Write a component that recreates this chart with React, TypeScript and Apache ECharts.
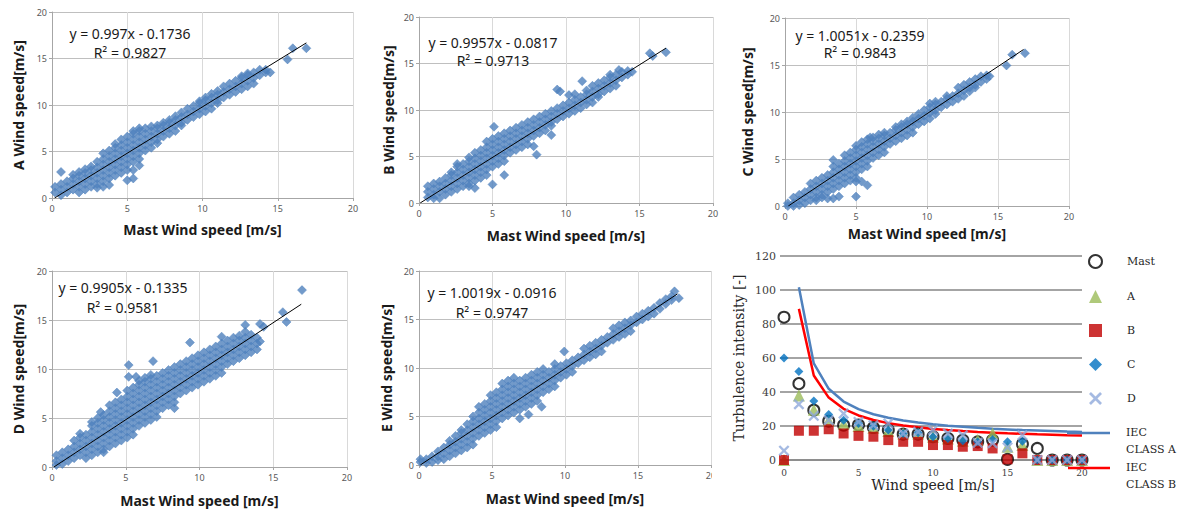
import React, { useEffect, useRef } from "react";
import * as echarts from "echarts";

type Col = [number, number[]];

// ---- scatter clouds: [mast speed, [sensor speeds read at that mast speed]] ----
const cloudA: Col[] = [
  [0.2, [0.6, 1.2]], [0.6, [0.3, 0.9, 1.5, 2.8]], [1.0, [0.6, 1.2, 1.8]], [1.4, [0.9, 1.5, 2.1, 2.5]],
  [1.8, [0.6, 1.2, 1.8, 2.4, 2.8]], [2.2, [0.9, 1.5, 2.1, 2.7, 3.1]], [2.6, [1.2, 1.8, 2.4, 3.0, 3.4]],
  [3.0, [1.1, 1.5, 2.1, 2.7, 3.3, 3.9]], [3.4, [1.2, 1.8, 2.4, 3.0, 3.6, 4.2, 4.8]],
  [3.8, [1.4, 2.1, 2.7, 3.3, 3.9, 4.5, 5.1]], [4.2, [2.4, 3.0, 3.6, 4.2, 4.8, 5.4, 5.8]],
  [4.6, [2.7, 3.3, 3.9, 4.5, 5.1, 5.7, 6.3]], [5.0, [1.9, 3.0, 3.6, 4.2, 4.8, 5.4, 6.0, 6.6]],
  [5.4, [2.1, 3.0, 3.9, 4.5, 5.1, 5.7, 6.3, 6.9, 7.2]], [5.8, [3.5, 4.2, 4.8, 5.4, 6.0, 6.6, 7.2, 7.5]],
  [6.2, [5.1, 5.7, 6.3, 6.9, 7.5]], [6.6, [5.4, 6.0, 6.6, 7.2, 7.7]], [7.0, [5.9, 6.3, 6.9, 7.5, 7.8]],
  [7.4, [6.6, 7.2, 7.8, 8.1]], [7.8, [6.9, 7.5, 8.1, 8.4]], [8.2, [7.2, 7.8, 8.4, 8.8]],
  [8.6, [7.8, 8.1, 8.7, 9.2]], [9.0, [8.4, 9.0, 9.6]], [9.4, [8.7, 9.3, 9.9]], [9.8, [9.0, 9.6, 10.2, 10.4]],
  [10.2, [9.3, 9.9, 10.5, 10.8]], [10.6, [9.6, 10.2, 10.8, 11.2]], [11.0, [10.2, 10.5, 11.1, 11.5]],
  [11.4, [10.8, 11.4, 12.0]], [11.8, [11.1, 11.7, 12.3]], [12.2, [11.4, 12.0, 12.6]],
  [12.6, [11.7, 12.3, 12.9, 13.1]], [13.0, [12.0, 12.6, 13.2, 13.4]], [13.4, [12.3, 12.9, 13.5]],
  [13.8, [13.2, 13.8]], [14.2, [13.5, 13.8]], [14.5, [13.5]],
  [15.65, [14.9]], [16.0, [16.1]], [16.9, [16.1]],
];

const cloudB: Col[] = [
  [0.6, [0.6, 1.2, 1.8]], [1.0, [0.5, 0.9, 1.5, 2.1]], [1.4, [0.5, 1.2, 1.8, 2.3]], [1.8, [0.9, 1.5, 2.1, 2.7]],
  [2.2, [1.2, 1.8, 2.4, 3.0, 3.3]], [2.6, [1.5, 2.1, 2.7, 3.3, 3.9, 4.2]], [3.0, [1.8, 2.4, 3.0, 3.6, 4.2]],
  [3.4, [1.8, 2.1, 2.7, 3.3, 3.9, 4.5, 4.9]], [3.8, [1.6, 2.4, 3.0, 3.6, 4.2, 4.8, 5.4]],
  [4.2, [2.7, 3.3, 3.9, 4.5, 5.1, 5.7]], [4.6, [3.0, 3.6, 4.2, 4.8, 5.4, 6.0, 6.6]],
  [5.0, [2.0, 3.9, 4.5, 5.1, 5.7, 6.3, 6.9]], [5.1, [8.2]], [5.4, [4.2, 4.8, 5.4, 6.0, 6.6, 7.2]],
  [5.8, [3.0, 4.5, 5.1, 5.7, 6.3, 6.9, 7.5]], [6.2, [5.4, 6.0, 6.6, 7.2, 7.8]], [6.6, [5.7, 6.3, 6.9, 7.5, 8.1]],
  [7.0, [6.0, 6.6, 7.2, 7.8, 8.4]], [7.4, [6.3, 6.9, 7.5, 8.1, 8.7]], [7.8, [6.1, 7.2, 7.8, 8.4, 9.0]],
  [8.0, [5.2]], [8.2, [7.5, 8.1, 8.7, 9.3]], [8.6, [7.8, 8.4, 9.0, 9.6]], [9.0, [7.3, 8.3, 8.7, 9.3, 9.9]],
  [9.4, [9.0, 9.6, 10.2, 12.2]], [9.6, [12.0]], [9.8, [9.3, 9.9, 10.5]], [10.2, [9.6, 10.2, 10.8, 11.6]],
  [10.6, [9.9, 10.5, 11.1, 11.7]], [11.0, [10.2, 10.8, 11.4]], [11.1, [13.1]], [11.4, [10.6, 11.1, 11.7, 12.1]],
  [11.8, [10.8, 11.4, 12.0, 12.6]], [12.2, [11.4, 11.7, 12.3, 12.9]], [12.6, [12.0, 12.6, 13.2]],
  [13.0, [12.3, 12.9, 13.5, 13.8]], [13.4, [12.6, 13.2, 13.8]], [13.6, [14.3]], [13.8, [13.5, 14.1]],
  [14.2, [13.8, 14.2]], [14.5, [14.1]], [15.7, [16.1]], [15.9, [15.8]], [16.8, [16.2]],
];

const cloudC: Col[] = [
  [0.2, [0.0, 0.3]], [0.6, [0.0, 0.3, 0.9]], [1.0, [0.1, 0.6, 1.2]], [1.4, [0.3, 0.9, 1.5]],
  [1.8, [0.6, 1.2, 1.8, 2.4]], [2.2, [0.6, 0.9, 1.5, 2.1, 2.7]], [2.6, [0.9, 1.2, 1.8, 2.4, 3.0]],
  [3.0, [0.8, 1.5, 2.1, 2.7, 3.3]], [3.4, [0.8, 1.8, 2.4, 3.0, 3.6, 4.2, 4.9]],
  [3.8, [1.0, 2.1, 2.7, 3.3, 3.9, 4.5]], [4.2, [2.4, 3.0, 3.6, 4.2, 4.8, 5.4]],
  [4.6, [2.7, 3.3, 3.9, 4.5, 5.1, 5.7]], [5.0, [1.0, 2.6, 3.0, 3.6, 4.2, 4.8, 5.4, 6.0, 6.4]],
  [5.4, [2.6, 3.9, 4.5, 5.1, 5.7, 6.3, 6.8]], [5.8, [2.2, 4.2, 4.8, 5.4, 6.0, 6.6, 7.1]], [6.0, [7.3]],
  [6.2, [5.1, 5.7, 6.3, 6.9, 7.3]], [6.6, [5.4, 6.0, 6.6, 7.2, 7.6]], [7.0, [5.7, 6.3, 6.9, 7.5, 7.8]],
  [7.4, [6.6, 7.2, 7.8]], [7.8, [6.9, 7.5, 8.1, 8.4]], [8.2, [7.2, 7.8, 8.4, 8.7]], [8.6, [7.5, 8.1, 8.7, 9.0]],
  [9.0, [7.8, 8.4, 9.0, 9.4]], [9.4, [8.7, 9.3, 9.8]], [9.8, [9.0, 9.6, 10.2]], [10.2, [9.3, 9.9, 10.5, 10.9]],
  [10.6, [9.8, 10.2, 10.8, 11.1]], [11.0, [10.5, 11.1]], [11.4, [10.8, 11.4, 11.7]], [11.8, [11.1, 11.7]],
  [12.2, [11.4, 12.0, 12.6]], [12.6, [11.7, 12.3, 12.9]], [13.0, [12.2, 12.6, 13.2]],
  [13.4, [12.6, 12.9, 13.5]], [13.8, [13.2, 13.8]], [14.2, [13.5, 13.9]], [14.4, [13.8]],
  [15.6, [14.95]], [16.0, [16.1]], [16.9, [16.25]],
];

const cloudD: Col[] = [
  [0.3, [0.2, 0.6, 1.2]], [0.7, [0.3, 0.9, 1.5]], [1.1, [0.6, 1.2, 1.8]], [1.5, [0.9, 1.5, 2.1, 2.7]],
  [1.9, [1.2, 1.8, 2.4, 3.0, 3.4]], [2.3, [0.9, 1.5, 2.1, 2.7, 3.3]], [2.7, [1.2, 1.8, 2.4, 3.0, 3.6, 4.2, 4.6]],
  [3.1, [1.5, 2.1, 2.7, 3.3, 3.9, 4.5, 5.0]], [3.3, [5.6]], [3.5, [1.5, 1.8, 2.4, 3.0, 3.6, 4.2, 4.8, 5.3]],
  [3.9, [2.1, 2.7, 3.3, 3.9, 4.5, 5.1, 5.7, 6.3]], [4.3, [2.4, 3.0, 3.6, 4.2, 4.8, 5.4, 6.0, 6.6]], [4.4, [7.6]],
  [4.7, [2.7, 3.3, 3.9, 4.5, 5.1, 5.7, 6.3, 6.9]], [5.1, [3.0, 3.6, 4.2, 4.8, 5.4, 6.0, 6.6, 7.2, 7.8]],
  [5.2, [9.2, 10.4]], [5.5, [3.3, 3.9, 4.5, 5.1, 5.7, 6.3, 6.9, 7.5, 8.1]], [5.7, [9.2]],
  [5.9, [4.2, 4.8, 5.4, 6.0, 6.6, 7.2, 7.8, 8.4, 8.8]], [6.3, [4.5, 5.1, 5.7, 6.3, 6.9, 7.5, 8.1, 8.7, 9.1]],
  [6.7, [4.8, 5.4, 6.0, 6.6, 7.2, 7.8, 8.4, 9.0, 9.4]], [6.85, [10.8]],
  [7.1, [5.1, 5.7, 6.3, 6.9, 7.5, 8.1, 8.7, 9.3]], [7.5, [6.0, 6.6, 7.2, 7.8, 8.4, 9.0, 9.6]],
  [7.9, [6.3, 6.9, 7.5, 8.1, 8.7, 9.3, 9.9]], [8.3, [6.0, 6.6, 7.2, 7.8, 8.4, 9.0, 9.6, 10.2]],
  [8.7, [7.5, 8.1, 8.7, 9.3, 9.9, 10.5]], [9.1, [7.8, 8.4, 9.0, 9.6, 10.2, 10.8]], [9.35, [12.7]],
  [9.5, [8.1, 8.7, 9.3, 9.9, 10.5, 11.1]], [9.9, [8.4, 9.0, 9.6, 10.2, 10.8, 11.4]],
  [10.3, [8.7, 9.3, 9.9, 10.5, 11.1, 11.7]], [10.7, [9.0, 9.6, 10.2, 10.8, 11.4, 12.0]],
  [11.1, [9.3, 9.9, 10.5, 11.1, 11.7, 12.3]], [11.5, [9.6, 10.2, 10.8, 11.4, 12.0, 12.6, 13.3]],
  [11.9, [10.5, 11.1, 11.7, 12.3, 12.9]], [12.3, [10.8, 11.4, 12.0, 12.6, 13.2]],
  [12.7, [11.1, 11.7, 12.3, 12.9, 13.4]], [13.1, [11.4, 12.0, 12.6, 13.2, 13.8, 14.5]],
  [13.5, [11.7, 12.3, 12.9, 13.5]], [13.9, [12.0, 12.6, 13.2]], [14.1, [12.8, 14.6]], [14.35, [14.3]],
  [15.65, [15.8]], [15.9, [14.8]], [16.95, [18.05]],
];

const cloudE: Col[] = [
  [0.1, [0.3, 0.6]], [0.5, [0.2, 0.6]], [0.9, [0.3, 0.9]], [1.3, [0.5, 0.9, 1.4]], [1.7, [0.6, 1.2, 1.8]],
  [2.1, [0.9, 1.5, 2.1, 2.5]], [2.5, [1.2, 1.8, 2.4, 3.0]], [2.9, [1.5, 2.1, 2.7, 3.3, 3.6]],
  [3.3, [1.8, 2.4, 3.0, 3.6, 4.2]], [3.7, [2.1, 2.7, 3.3, 3.9, 4.5, 5.0]],
  [4.1, [3.0, 3.6, 4.2, 4.8, 5.4, 6.0]], [4.5, [3.3, 3.9, 4.5, 5.1, 5.7, 6.3]],
  [4.9, [3.6, 4.2, 4.8, 5.4, 6.0, 6.6, 7.2]], [5.3, [3.9, 4.5, 5.1, 5.7, 6.3, 6.9, 7.5]],
  [5.7, [4.8, 5.4, 6.0, 6.6, 7.2, 7.8, 8.4]], [6.1, [5.1, 5.7, 6.3, 6.9, 7.5, 8.1, 8.7]],
  [6.5, [5.4, 6.0, 6.6, 7.2, 7.8, 8.4, 9.0]], [6.9, [4.8, 5.7, 6.3, 6.9, 7.5, 8.1, 8.7]],
  [7.3, [6.0, 6.6, 7.2, 7.8, 8.4, 9.0]], [7.5, [5.2]], [7.7, [6.3, 6.9, 7.5, 8.1, 8.7, 9.3]],
  [8.1, [6.6, 7.2, 7.8, 8.4, 9.0, 9.6]], [8.4, [6.0]], [8.5, [7.5, 8.1, 8.7, 9.3, 9.9]],
  [8.9, [7.8, 8.4, 9.0, 9.6]], [9.3, [8.1, 8.7, 9.3, 9.9, 10.4]], [9.7, [9.0, 9.6, 10.2]], [9.95, [11.7]],
  [10.1, [9.3, 9.9, 10.5]], [10.5, [9.6, 10.2, 10.8]], [10.9, [10.5, 11.1]], [11.3, [10.8, 11.4, 12.0]],
  [11.7, [11.1, 11.7, 12.3]], [12.1, [11.4, 12.0, 12.6]], [12.5, [11.7, 12.3, 12.9]], [12.9, [12.6, 13.2]],
  [13.3, [12.9, 13.5, 14.1]], [13.7, [13.2, 13.8, 14.4]], [14.1, [13.5, 14.1, 14.7]], [14.5, [13.8, 14.4, 14.9]],
  [14.9, [14.7, 15.3]], [15.3, [15.0, 15.6]], [15.7, [15.3, 15.9]], [16.1, [15.6, 16.2]], [16.5, [16.1, 16.7]],
  [16.9, [16.6, 17.1]], [17.3, [17.0, 17.4]], [17.5, [17.9]], [17.8, [17.2]],
];

// ---- linear trend lines (end points) ----
const trendA = [[0.17, 0], [16.9, 16.68]];
const trendB = [[0.08, 0], [16.8, 16.65]];
const trendC = [[0.23, 0], [16.8, 16.65]];
const trendD = [[0.13, 0], [16.9, 16.61]];
const trendE = [[0.09, 0], [17.7, 17.64]];

const sensorNames = ["A", "B", "C", "D", "E"];
const equations = [
  ["y = 0.997x - 0.1736", "R² = 0.9827"],
  ["y = 0.9957x - 0.0817", "R² = 0.9713"],
  ["y = 1.0051x - 0.2359", "R² = 0.9843"],
  ["y = 0.9905x - 0.1335", "R² = 0.9581"],
  ["y = 1.0019x - 0.0916", "R² = 0.9747"],
];

// ---- turbulence intensity panel ----
const windBins = [0, 1, 2, 3, 4, 5, 6, 7, 8, 9, 10, 11, 12, 13, 14, 15, 16, 17, 18, 19, 20];
const tiMast = [84, 44.9, 29.3, 22.8, 20.5, 20.6, 19.1, 17.6, 15.2, 15.2, 13.7, 12.7, 11.7, 10.7, 11.7, 0.4, 9.4, 6.8, 0, 0, 0];
const tiA = [0, 38, 29.6, 23.4, 21.5, 20, 19, 17, 15.6, 15.6, 13.7, 12.7, 11.3, 11.7, 15.6, 7.8, 8.8, 0, 0, 0, 0];
const tiB = [0, 17.2, 17.2, 18.1, 15.6, 14.2, 13.7, 11.7, 10.7, 10.7, 8.8, 8.8, 7.8, 8.2, 6.8, 0.4, 3.9, 0, 0, 0, 0];
const tiC = [60, 52, 34.7, 26.7, 23.4, 21.5, 19.9, 17.6, 15.6, 16, 13.7, 12.7, 11.3, 10.7, 12.1, 10.7, 11.1, 0, 0, 0, 0];
const tiD = [5.5, 32.8, 26, 23.4, 27.3, 22.4, 20.5, 21.5, 15.6, 16.6, 17.6, 15.6, 14.6, 10.1, 9.8, 7.4, 14.6, 0, 0, 0, 0];
const iecBins = [1, 2, 3, 4, 5, 6, 7, 8, 9, 10, 11, 12, 13, 14, 15, 16, 17, 18, 19, 20];
const iecClassA = [101.6, 56.8, 41.9, 34.4, 29.9, 26.9, 24.8, 23.2, 22.0, 21.0, 20.1, 19.5, 18.9, 18.4, 18.0, 17.6, 17.3, 17.0, 16.7, 16.5];
const iecClassB = [88.9, 49.7, 36.7, 30.1, 26.2, 23.5, 21.7, 20.3, 19.2, 18.3, 17.6, 17.0, 16.5, 16.1, 15.7, 15.4, 15.1, 14.9, 14.6, 14.4];

const clouds = [cloudA, cloudB, cloudC, cloudD, cloudE];
const trends = [trendA, trendB, trendC, trendD, trendE];

// layout of the six panels (pixels)
const grids = [
  { left: 52, top: 12, width: 301, height: 186 },
  { left: 419, top: 17, width: 294, height: 186 },
  { left: 785, top: 18, width: 284, height: 188 },
  { left: 52, top: 271, width: 295, height: 196 },
  { left: 419, top: 271, width: 292, height: 194 },
  { left: 784, top: 256, width: 298, height: 204 },
];
const xNameGaps = [24, 25, 20, 26, 26];
const yNameGaps = [27, 24, 31, 27, 26];
const eqPos = [
  [130, 33, 52], [493, 42, 60], [860, 35, 52], [123, 287, 307], [492, 292, 312],
];

const SANS = "'Noto Sans', 'Open Sans', sans-serif";
const SERIF = "'DejaVu Serif', 'Liberation Serif', serif";
const POINT = "#4F81BD";
const X_MARK = "path://M1.5,0 L5,3.5 L8.5,0 L10,1.5 L6.5,5 L10,8.5 L8.5,10 L5,6.5 L1.5,10 L0,8.5 L3.5,5 L0,1.5 Z";

function flatten(cols: Col[]) {
  const out: number[][] = [];
  cols.forEach(([x, ys]) => ys.forEach((y) => out.push([x, y])));
  return out;
}

export default function App() {
  const ref = useRef<HTMLDivElement>(null);

  useEffect(() => {
    if (!ref.current) return;
    const chart = echarts.init(ref.current, undefined, { renderer: "svg" });

    const xAxis: any[] = [];
    const yAxis: any[] = [];
    const series: any[] = [];
    const graphic: any[] = [];

    sensorNames.forEach((s, i) => {
      xAxis.push({
        type: "value", gridIndex: i, min: 0, max: 20, interval: 5,
        name: "Mast Wind speed [m/s]", nameLocation: "middle", nameGap: xNameGaps[i],
        nameTextStyle: { fontFamily: SANS, fontSize: 14, fontWeight: "bold", color: "#1a1a1a" },
        axisLine: { show: true, lineStyle: { color: "#A6A6A6", width: 1 } },
        axisTick: { show: true, length: 3, lineStyle: { color: "#A6A6A6" } },
        axisLabel: { fontFamily: SANS, fontSize: 9, color: "#595959", margin: 6 },
        splitLine: { show: true, lineStyle: { color: "#D9D9D9", width: 1 } },
      });
      yAxis.push({
        type: "value", gridIndex: i, min: 0, max: 20, interval: 5,
        name: s + " Wind speed[m/s]", nameLocation: "middle", nameGap: yNameGaps[i],
        nameTextStyle: { fontFamily: SANS, fontSize: 14, fontWeight: "bold", color: "#1a1a1a" },
        axisLine: { show: true, lineStyle: { color: "#A6A6A6", width: 1 } },
        axisTick: { show: true, length: 3, lineStyle: { color: "#A6A6A6" } },
        axisLabel: { fontFamily: SANS, fontSize: 9, color: "#595959", margin: 5 },
        splitLine: { show: true, lineStyle: { color: "#BFBFBF", width: 1 } },
      });
      series.push({
        type: "scatter", name: s + " wind speed", xAxisIndex: i, yAxisIndex: i,
        data: flatten(clouds[i]), symbol: "diamond", symbolSize: 9,
        itemStyle: { color: POINT, borderColor: POINT, borderWidth: 0.6 }, z: 2, silent: true,
      });
      series.push({
        type: "line", name: s + " trend", xAxisIndex: i, yAxisIndex: i,
        data: trends[i], symbol: "none",
        lineStyle: { color: "#000", width: 1 }, z: 3, silent: true,
      });
      const [cx, y1, y2] = eqPos[i];
      graphic.push({
        type: "text", x: cx, y: y1, z: 50,
        style: { text: equations[i][0], fontFamily: SANS, fontSize: 14, fill: "#1a1a1a",
          textAlign: "center", textVerticalAlign: "middle" },
      });
      graphic.push({
        type: "text", x: cx, y: y2, z: 50,
        style: { text: equations[i][1], fontFamily: SANS, fontSize: 14, fill: "#1a1a1a",
          textAlign: "center", textVerticalAlign: "middle" },
      });
    });

    // turbulence intensity panel
    xAxis.push({
      type: "value", gridIndex: 5, min: 0, max: 20, interval: 5,
      name: "Wind speed [m/s]", nameLocation: "middle", nameGap: 18,
      nameTextStyle: { fontFamily: SERIF, fontSize: 14, color: "#262626" },
      axisLine: { show: true, lineStyle: { color: "#868686", width: 1.5 } },
      axisTick: { show: false },
      axisLabel: { fontFamily: SERIF, fontSize: 9, color: "#404040", margin: 8 },
      splitLine: { show: false },
    });
    yAxis.push({
      type: "value", gridIndex: 5, min: 0, max: 120, interval: 20,
      name: "Turbulence intensity [-]", nameLocation: "middle", nameGap: 38,
      nameTextStyle: { fontFamily: SERIF, fontSize: 14, color: "#262626" },
      axisLine: { show: false },
      axisTick: { show: true, length: 4, lineStyle: { color: "#868686", width: 1.5 } },
      axisLabel: { fontFamily: SERIF, fontSize: 11, color: "#404040", margin: 8 },
      splitLine: { show: true, lineStyle: { color: "#868686", width: 1.5 } },
    });

    const pts = (vals: number[], bins: number[]) => bins.map((x, k) => [x, vals[k]]);
    series.push(
      {
        type: "line", name: "IEC CLASS A", xAxisIndex: 5, yAxisIndex: 5,
        data: pts(iecClassA, iecBins), symbol: "none",
        lineStyle: { color: "#4F81BD", width: 2.5 }, z: 2,
      },
      {
        type: "line", name: "IEC CLASS B", xAxisIndex: 5, yAxisIndex: 5,
        data: pts(iecClassB, iecBins), symbol: "none",
        lineStyle: { color: "#FF0000", width: 2.5 }, z: 2,
      },
      {
        type: "scatter", name: "Mast", xAxisIndex: 5, yAxisIndex: 5,
        data: pts(tiMast, windBins), symbol: "circle", symbolSize: 11,
        itemStyle: { color: "rgba(255,255,255,0)", borderColor: "#000", borderWidth: 2 }, z: 3,
      },
      {
        type: "scatter", name: "A", xAxisIndex: 5, yAxisIndex: 5,
        data: pts(tiA, windBins), symbol: "triangle", symbolSize: 12,
        itemStyle: { color: "#9BBB59" }, z: 4,
      },
      {
        type: "scatter", name: "B", xAxisIndex: 5, yAxisIndex: 5,
        data: pts(tiB, windBins), symbol: "rect", symbolSize: 10,
        itemStyle: { color: "#C00000" }, z: 5,
      },
      {
        type: "scatter", name: "C", xAxisIndex: 5, yAxisIndex: 5,
        data: pts(tiC, windBins), symbol: "diamond", symbolSize: 9,
        itemStyle: { color: "#0070C0" }, z: 6,
      },
      {
        type: "scatter", name: "D", xAxisIndex: 5, yAxisIndex: 5,
        data: pts(tiD, windBins), symbol: X_MARK, symbolSize: 11,
        itemStyle: { color: "#8EA9DB" }, z: 7,
      }
    );

    // IEC legend entries (line samples + two-line labels)
    graphic.push(
      { type: "line", z: 40, shape: { x1: 1067, y1: 433, x2: 1110, y2: 433 },
        style: { stroke: "#4F81BD", lineWidth: 2.5 } },
      { type: "line", z: 40, shape: { x1: 1068, y1: 468, x2: 1110, y2: 468 },
        style: { stroke: "#FF0000", lineWidth: 2.5 } },
      { type: "text", x: 1126, y: 441, z: 40,
        style: { text: "IEC\nCLASS A", fontFamily: SERIF, fontSize: 11, lineHeight: 17, fill: "#262626",
          textAlign: "left", textVerticalAlign: "middle" } },
      { type: "text", x: 1126, y: 476, z: 40,
        style: { text: "IEC\nCLASS B", fontFamily: SERIF, fontSize: 11, lineHeight: 17, fill: "#262626",
          textAlign: "left", textVerticalAlign: "middle" } },
      // the E panel is cropped on the right in the source picture
      { type: "rect", z: 100, shape: { x: 712, y: 466, width: 18, height: 16 },
        style: { fill: "#ffffff" } }
    );

    chart.setOption({
      animation: false,
      backgroundColor: "#ffffff",
      grid: grids.map((g) => ({ ...g, containLabel: false, outerBoundsMode: "none" })),
      xAxis,
      yAxis,
      legend: {
        data: ["Mast", "A", "B", "C", "D"],
        orient: "vertical", left: 1083, top: 249,
        itemWidth: 13, itemHeight: 13, itemGap: 21,
        textStyle: { fontFamily: SERIF, fontSize: 11, color: "#262626", padding: [0, 0, 0, 20] },
        selectedMode: false,
      },
      series,
      graphic,
    });

    return () => chart.dispose();
  }, []);

  return (
    <div
      ref={ref}
      style={{ position: "absolute", left: 0, top: 0, width: 1178, height: 512 }}
    />
  );
}
